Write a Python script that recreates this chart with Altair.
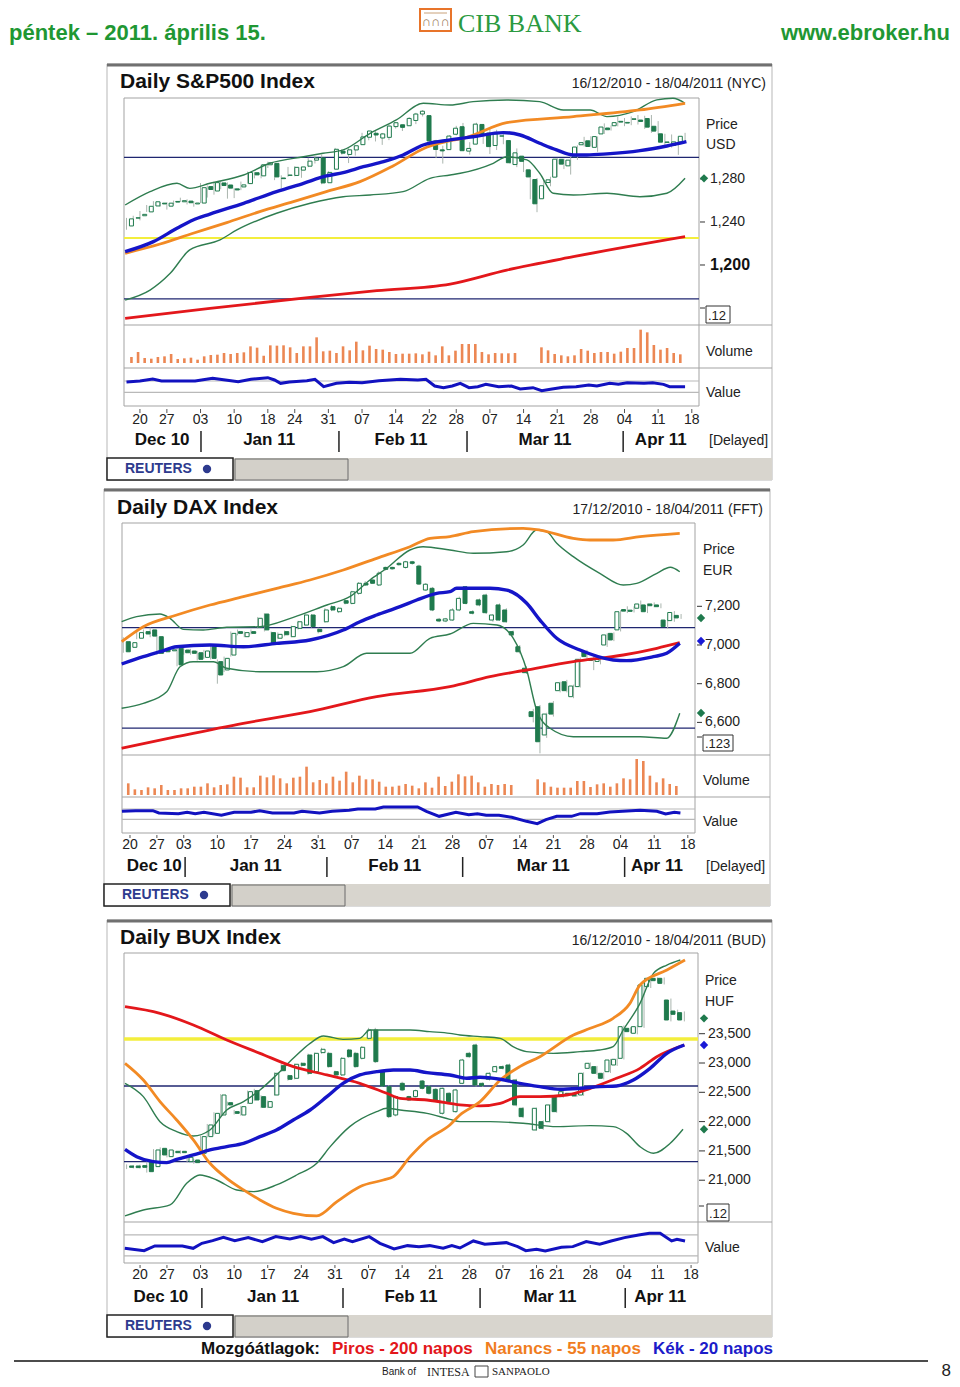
import altair as alt
import numpy as np
import pandas as pd

# =====================================================================
# DATA (x = trading-day index)
# =====================================================================
MONTHS = ["Dec 10", "Jan 11", "Feb 11", "Mar 11", "Apr 11"]

# ---------------- S&P 500 (index 0 = 16/12/2010) ----------------
sp_open = [1236.3, 1243.6, 1245.8, 1249.4, 1254.9, 1257.5, 1254.7, 1259.1, 1258.8, 1259.4,
           1256.8, 1257.6, 1272.9, 1268.8, 1276.3, 1274.4, 1270.8, 1272.6, 1275.7, 1285.8,
           1282.9, 1293.2, 1294.5, 1280.9, 1283.6, 1283.3, 1288.2, 1291.9, 1297.5, 1299.6,
           1276.5, 1289.1, 1305.9, 1302.8, 1307.0, 1311.9, 1318.8, 1322.5, 1318.1, 1318.7,
           1328.7, 1330.4, 1329.5, 1334.4, 1340.4, 1338.9, 1315.4, 1307.1, 1307.3, 1321.6,
           1328.6, 1305.9, 1312.4, 1330.7, 1322.7, 1311.1, 1319.9, 1315.7, 1293.4, 1301.2,
           1288.5, 1279.5, 1261.6, 1276.7, 1281.7, 1298.3, 1292.2, 1300.6, 1311.8, 1315.5,
           1309.4, 1321.9, 1327.4, 1329.5, 1333.6, 1332.0, 1335.9, 1334.8, 1336.2, 1329.0,
           1322.0, 1314.0, 1311.1, 1314.5]
sp_high = [1243.8, 1245.8, 1250.2, 1255.8, 1259.4, 1258.6, 1258.4, 1259.9, 1262.6, 1261.1,
           1259.3, 1276.2, 1274.1, 1277.6, 1278.2, 1276.8, 1271.5, 1277.6, 1286.9, 1286.7,
           1293.2, 1296.1, 1294.6, 1283.4, 1291.2, 1291.9, 1291.3, 1299.7, 1301.3, 1302.7,
           1287.2, 1308.9, 1307.6, 1308.6, 1311.0, 1322.9, 1324.9, 1324.5, 1322.8, 1330.8,
           1332.9, 1330.4, 1337.6, 1341.5, 1344.1, 1338.9, 1316.4, 1310.9, 1320.6, 1329.4,
           1332.1, 1314.2, 1332.3, 1331.1, 1327.7, 1325.7, 1323.2, 1315.7, 1308.4, 1301.2,
           1288.5, 1280.9, 1278.9, 1282.1, 1299.6, 1299.0, 1300.6, 1311.3, 1319.2, 1319.7,
           1319.5, 1331.7, 1329.8, 1337.9, 1336.7, 1338.2, 1339.5, 1338.8, 1339.5, 1333.8,
           1322.0, 1321.4, 1316.8, 1322.9]
sp_low = [1232.8, 1239.9, 1241.5, 1249.4, 1254.9, 1254.1, 1251.5, 1256.2, 1258.8, 1256.3,
          1254.2, 1257.6, 1262.7, 1265.4, 1270.4, 1261.7, 1262.2, 1269.6, 1275.7, 1280.5,
          1280.6, 1290.2, 1278.9, 1271.3, 1282.1, 1282.5, 1281.1, 1291.0, 1294.4, 1275.1,
          1276.5, 1289.1, 1302.6, 1294.8, 1301.7, 1311.9, 1316.0, 1314.9, 1311.7, 1316.1,
          1326.9, 1324.6, 1329.5, 1331.0, 1338.1, 1312.3, 1299.4, 1294.3, 1307.3, 1320.5,
          1306.1, 1302.6, 1312.4, 1312.6, 1303.2, 1306.9, 1312.3, 1294.2, 1291.0, 1286.4,
          1261.1, 1249.1, 1261.6, 1273.2, 1281.7, 1289.2, 1284.1, 1297.7, 1310.2, 1310.2,
          1305.3, 1321.9, 1325.0, 1328.9, 1329.1, 1330.0, 1330.6, 1326.6, 1322.9, 1321.1,
          1309.5, 1309.2, 1302.4, 1313.7]
sp_close = [1242.9, 1243.9, 1247.1, 1254.6, 1258.8, 1256.8, 1257.5, 1258.5, 1259.8, 1257.9,
            1257.6, 1271.9, 1270.2, 1276.6, 1273.9, 1271.5, 1269.8, 1274.5, 1286.0, 1283.8,
            1293.2, 1295.0, 1281.9, 1280.3, 1283.4, 1290.8, 1291.2, 1296.6, 1299.5, 1276.3,
            1286.1, 1307.6, 1304.0, 1307.1, 1310.9, 1319.1, 1324.6, 1320.9, 1321.9, 1329.2,
            1332.3, 1328.0, 1336.3, 1340.4, 1343.0, 1315.4, 1307.4, 1306.1, 1319.9, 1327.2,
            1306.3, 1308.4, 1331.0, 1321.2, 1310.1, 1321.8, 1320.0, 1295.1, 1304.3, 1296.4,
            1281.9, 1256.9, 1273.7, 1279.2, 1298.4, 1293.8, 1297.5, 1309.7, 1313.8, 1310.2,
            1319.4, 1328.3, 1325.8, 1332.4, 1332.9, 1332.6, 1335.5, 1333.5, 1328.2, 1324.5,
            1314.2, 1314.4, 1314.5, 1319.7]
sp_ma20_i = [-0.2, 4, 7.5, 9.9, 12.4, 17.4, 22.3, 26.3, 29.7, 32.2, 35.2, 38.2, 41.1, 44.1, 48.1,
             51.5, 56, 58.5, 61.4, 63.9, 66.4, 68.4, 71.4, 76.3, 80.3, 83.2]
sp_ma20_v = [1212.4, 1221.7, 1234.1, 1241.9, 1247.4, 1257.4, 1268.2, 1276, 1282.8, 1285.9, 1291.4,
             1296.1, 1302.3, 1311.6, 1316.3, 1319.3, 1323.1, 1320.9, 1313.2, 1307, 1302.3, 1302.3,
             1303.3, 1306.3, 1310.7, 1314.7]
sp_ma55_i = [-0.2, 5.0, 9.9, 14.9, 19.8, 24.8, 29.7, 34.7, 39.6, 44.6, 48.1, 50.0, 56.5, 66.4, 76.3, 83]
sp_ma55_v = [1210.9, 1219.5, 1229.5, 1239.4, 1249.6, 1258.9, 1268.2, 1277.5, 1292.1, 1309.5, 1315.6,
             1317.8, 1332.4, 1338, 1344.2, 1350.4]
sp_ma200_i = [-0.2, 12.4, 27.3, 37.2, 48.1, 56.5, 66.4, 83]
sp_ma200_v = [1150.4, 1159.7, 1169.9, 1176.1, 1182.3, 1195.3, 1207.7, 1226.3]
sp_bbu_i = [-0.2, 3.5, 7.5, 9.4, 12.4, 17.4, 21.3, 26.3, 29.2, 32.2, 36.2, 40.1, 44.1, 48.1, 51.5,
            56.5, 61.4, 64.9, 68.9, 71.4, 75.3, 78.8, 81.2, 83]
sp_bbu_v = [1255.8, 1268.2, 1276, 1271.3, 1276, 1283.7, 1294.6, 1300.7, 1303.9, 1307, 1322.5, 1334.9,
            1350.4, 1348.8, 1351.9, 1353.5, 1351.9, 1344.2, 1344.2, 1338, 1342.6, 1353.5, 1355, 1350.4]
sp_bbl_i = [-0.2, 3.5, 6.5, 9.4, 13.9, 16.4, 22.3, 27.3, 32.2, 36.2, 41.1, 45.1, 48.1, 49.6, 54.5,
            56.5, 59.5, 61.4, 63.4, 66.4, 71.4, 76.3, 80.3, 83]
sp_bbl_v = [1167.4, 1176.7, 1192.3, 1214, 1223.3, 1232.6, 1248.1, 1257.4, 1263.5, 1265.1, 1268.2,
            1280.6, 1283.7, 1285.3, 1294.6, 1300.7, 1297.7, 1285.3, 1266.7, 1265.1, 1266.7, 1263.5,
            1266.7, 1280.6]
sp_navy = [1300, 1168.5]
sp_yellow = [1225]
sp_ticks = [1280, 1240]
sp_ticks_bold = [1200]
sp_marks_v = [1280.6]
sp_marks_c = ["green"]
sp_vol = [18, 33, 15, 13, 18, 20, 27, 12, 14, 16, 10, 20, 24, 25, 30, 27, 30, 32, 50, 46,
          22, 53, 52, 53, 47, 30, 50, 50, 77, 35, 37, 30, 50, 38, 64, 38, 52, 42, 40, 33,
          27, 28, 28, 29, 26, 34, 23, 50, 23, 37, 57, 57, 57, 33, 26, 30, 29, 29, 30,
          None, None, None,
          47, 38, 27, 23, 20, 23, 42, 37, 30, 33, 33, 28, 34, 45, 45, 100, 92, 54, 40, 45, 30, 26]
sp_val_i = [0, 2, 3.9, 5.2, 10.2, 12.8, 14.7, 16.6, 18.5, 21, 22, 22.9, 24.2, 26.8, 28, 29.3, 31.2,
            33.1, 35, 37.5, 40.7, 43.3, 44.5, 45.8, 47.1, 48.4, 49.6, 50.9, 52.2, 53.4, 55.3, 57.2,
            58.5, 60.4, 61.7, 63, 64.9, 66.8, 68.7, 69.9, 71.8, 73.1, 74.4, 76.9, 78.2, 79.8, 80.7, 83]
sp_val_v = [64, 67, 73, 67, 67, 75, 70, 65, 72, 77, 70, 60, 64, 68, 72, 50, 60, 63, 62, 68,
            72, 70, 72, 52, 47, 52, 60, 47, 50, 57, 50, 52, 43, 47, 38, 42, 48, 50, 55, 52,
            60, 57, 62, 60, 62, 57, 50, 50]
sp_val_grid = [67, 33]
sp_day_i = [2, 6, 11, 16, 21, 25, 30, 35, 40, 45, 49, 54, 59, 64, 69, 74, 79, 84]
sp_day_t = ["20", "27", "03", "10", "18", "24", "31", "07", "14", "22", "28", "07", "14", "21", "28", "04", "11", "18"]
sp_mon_i = [5.3, 21.2, 40.8, 62.2, 79.4]
sp_sep_i = [11.07, 31.57, 50.6, 73.8]

# ---------------- DAX (index 0 = 17/12/2010) ----------------
dax_open = [7017, 6988, 7035, 7069, 7078, 7043, 6978, 6970, 6983, 6974,
            6969, 6960, 6936, 6991, 6914, 6871, 6948, 7069, 7043, 7069,
            7091, 7160, 7064, 7035, 7069, 7043, 7086, 7103, 7155, 7081,
            7120, 7198, 7172, 7229, 7215, 7267, 7319, 7336, 7310, 7401,
            7401, 7422, 7401, 7430, 7408, 7284, 7293, 7133, 7124, 7129,
            7181, 7301, 7172, 7233, 7258, 7129, 7207, 7181, 7069, 6991,
            6880, 6655, 6681, 6535, 6699, 6764, 6810, 6733, 6785, 6965,
            6930, 6915, 7000, 7060, 7078, 7183, 7180, 7190, 7207, 7212,
            7207, 7129, 7126, 7153]
dax_high = [7040, 7020, 7075, 7080, 7090, 7050, 6990, 6985, 6990, 6985,
            6980, 6970, 6975, 7000, 6925, 6940, 7070, 7080, 7070, 7080,
            7145, 7165, 7070, 7065, 7075, 7100, 7125, 7165, 7160, 7090,
            7190, 7205, 7195, 7235, 7280, 7325, 7330, 7340, 7380, 7405,
            7405, 7428, 7435, 7435, 7415, 7320, 7300, 7140, 7140, 7190,
            7250, 7305, 7180, 7240, 7265, 7160, 7215, 7190, 7075, 7000,
            6890, 6670, 6690, 6650, 6710, 6810, 6820, 6795, 6935, 6975,
            6940, 6940, 7060, 7065, 7180, 7200, 7200, 7230, 7215, 7220,
            7215, 7135, 7175, 7160]
dax_low = [6960, 6980, 7030, 7050, 7040, 6950, 6955, 6965, 6890, 6950,
           6950, 6920, 6930, 6925, 6800, 6860, 6940, 7050, 7040, 7055,
           7085, 7070, 7000, 7030, 7045, 7040, 7080, 7100, 7090, 7060,
           7115, 7175, 7165, 7210, 7210, 7260, 7305, 7315, 7305, 7385,
           7388, 7410, 7395, 7415, 7310, 7280, 7175, 7118, 7118, 7125,
           7175, 7210, 7158, 7200, 7160, 7120, 7125, 7115, 7045, 6955,
           6850, 6600, 6440, 6520, 6630, 6755, 6755, 6725, 6780, 6930,
           6870, 6900, 6990, 7020, 7070, 7165, 7168, 7185, 7165, 7195,
           7190, 7085, 7120, 7135]
dax_close = [6965, 7012, 7064, 7057, 7046, 6957, 6965, 6975, 6897, 6960,
             6957, 6926, 6969, 6931, 6845, 6931, 7060, 7060, 7064, 7060,
             7138, 7078, 7005, 7055, 7053, 7095, 7120, 7155, 7095, 7069,
             7181, 7181, 7190, 7216, 7275, 7319, 7310, 7319, 7371, 7391,
             7394, 7415, 7430, 7422, 7315, 7314, 7181, 7124, 7135, 7181,
             7241, 7215, 7164, 7207, 7167, 7155, 7129, 7120, 7052, 6965,
             6857, 6630, 6500, 6643, 6643, 6805, 6764, 6788, 6926, 6940,
             6920, 6925, 7052, 7026, 7172, 7175, 7174, 7212, 7172, 7203,
             7198, 7095, 7168, 7140]
dax_ma20_i = [-0.24, 2.98, 5.46, 7.94, 12.9, 17.86, 22.83, 27.78, 32.74, 35.22, 37.7, 41.18, 43.66,
              46.64, 48.6, 49.6, 54.57, 57.05, 60.03, 62, 64.5, 67.96, 72.9, 74.9, 78.87, 80.86, 82.8]
dax_ma20_v = [6901.8, 6939.7, 6965.4, 6991.2, 7000, 6991, 7008.6, 7025.8, 7077.5, 7120.5, 7155, 7198,
              7232.6, 7267, 7275.5, 7293, 7293, 7284, 7215.5, 7129, 7034.5, 6974, 6922.5, 6919, 6939.7,
              6957, 7008.6]
dax_ma55_i = [-0.24, 2.98, 7.94, 12.9, 17.86, 22.83, 27.78, 32.74, 37.7, 42.66, 45.64, 48.6, 52.08,
              59.5, 62, 66.96, 69.4, 72.9, 76.9, 82.8]
dax_ma55_v = [7017, 7094.6, 7155, 7206.7, 7249.6, 7293, 7336, 7387.6, 7448, 7508, 7551, 7559.8, 7585.6,
              7603, 7594, 7551, 7542.6, 7542.6, 7559.8, 7577]
dax_ma200_i = [-0.24, 7.94, 17.86, 27.78, 37.7, 48.6, 54.57, 60.03, 66.96, 74.4, 79.4, 82.8]
dax_ma200_v = [6466, 6526, 6595.3, 6655.3, 6733, 6784.5, 6836, 6870.8, 6913.7, 6948.3, 6983, 7012]
dax_bbu_i = [-0.24, 1.99, 5.46, 6.95, 8.93, 11.9, 15.4, 20.3, 25.3, 30.3, 33.7, 36.7, 39.2, 42.66,
             44.6, 48.6, 52.08, 57.05, 59.5, 61.5, 63, 64.5, 66.96, 70.9, 74.4, 76.4, 79.4, 81.4, 82.8]
dax_bbu_v = [7120.5, 7146.3, 7160, 7138, 7081, 7077.5, 7091.5, 7094.6, 7143, 7206.7, 7249.6, 7336,
             7396.4, 7491, 7508, 7491, 7474, 7482, 7516.8, 7594, 7585.6, 7525.6, 7456.5, 7370.5, 7310,
             7318.7, 7370.5, 7401.5, 7378.8]
dax_bbl_i = [-0.24, 2.98, 6.46, 8.44, 10.4, 13.4, 15.4, 20.3, 25.3, 28.8, 32.74, 36.2, 42.66, 45.64,
             48.6, 52.08, 55.6, 58.04, 60.03, 61.5, 63.5, 66.96, 72.9, 76.9, 80.86, 82.8]
dax_bbl_v = [6672.9, 6698.7, 6758.6, 6887.9, 6913.7, 6913.7, 6879.6, 6862, 6862, 6862, 6887.9, 6957,
             6957, 7034.6, 7056.8, 7112, 7103.4, 7034.6, 6870.8, 6664, 6569.5, 6526, 6526, 6526,
             6517.8, 6647]
dax_navy = [7090, 6570]
dax_yellow = []
dax_ticks = [7200, 7000, 6800, 6600]
dax_ticks_bold = []
dax_marks_v = [7139.5, 7020.7, 6648.6]
dax_marks_c = ["green", "blue", "green"]
dax_vol = [35, 17, 15, 23, 20, 30, 15, 15, 20, 20, 25, 25, 35, 23, 30, 32, 55, 52, 23, 23,
           58, 53, 59, 50, 35, 52, 55, 85, 38, 45, 35, 55, 43, 70, 38, 58, 47, 47, 40, 25,
           25, 28, 33, 28, 20, 38, 22, 55, 27, 40, 62, 56, 58, 38, 25, 33, 30, 33, 30,
           None, None, None,
           47, 38, 25, 22, 22, 22, 42, 42, 24, 32, 35, 25, 35, 50, 47, 108, 102, 58, 38, 50, 33, 27]
dax_val_i = [-0.2, 1.84, 4.4, 5.3, 8.2, 9.5, 10.7, 12, 14.6, 16.5, 19, 20.3, 22.2, 25.4, 26.6, 29.2,
             31.1, 33.6, 34.9, 37.5, 38.7, 42.5, 43.8, 45.1, 47, 49.5, 51.4, 52.7, 54, 55.9, 57.8, 60,
             61.6, 62.9, 64.5, 66.7, 68, 70.5, 72.4, 74.3, 76.9, 79.4, 80.7, 82, 82.9]
dax_val_v = [50, 52, 52, 45, 43, 47, 43, 47, 38, 47, 47, 52, 45, 45, 50, 45, 50, 53, 57, 57,
             63, 63, 63, 50, 35, 47, 40, 43, 38, 38, 32, 20, 13, 25, 35, 35, 43, 43, 48, 50,
             53, 50, 42, 47, 45]
dax_val_grid = [57, 26]
dax_day_i = [1, 5, 9, 14, 19, 24, 29, 34, 39, 44, 49, 54, 59, 64, 69, 74, 79, 84]
dax_day_t = ["20", "27", "03", "10", "17", "24", "31", "07", "14", "21", "28", "07", "14", "21", "28", "04", "11", "18"]
dax_mon_i = [4.6, 19.7, 40.4, 62.5, 79.4]
dax_sep_i = [9.2, 30.3, 50.5, 74.6]

# ---------------- BUX (index 0 = 16/12/2010) ----------------
bux_open = [21243, 21243, 21249, 21317, 21232, 21544, 21402, 21493, 21493, 21317,
            21345, 21459, 21744, 21800, 22113, 22323, 22170, 22113, 22312, 22528,
            22426, 22244, 22454, 22955, 22784, 22739, 22995, 23137, 22852, 23177,
            23165, 22852, 22796, 23222, 23165, 23080, 23421, 23563, 22852, 22597,
            22113, 22653, 22426, 22426, 22693, 22597, 22551, 22142, 22483, 22170,
            22653, 23165, 23307, 22653, 22722, 22852, 22938, 22966, 22710, 22227,
            None, 21857, 21999, 21999, 22426, 22426, 22483, 22471, 22454, 22909,
            22938, 22824, 22852, 22966, 23080, 23592, 23507, 23620, 24303, 24445,
            24445, 24075, 23887, 23859]
bux_high = [21270, 21260, 21265, 21330, 21530, 21560, 21530, 21510, 21510, 21410,
            21360, 21760, 21960, 22160, 22470, 22340, 22200, 22270, 22530, 22560,
            22450, 22360, 22840, 22990, 22800, 22990, 23010, 23160, 23180, 23260,
            23190, 22870, 23100, 23240, 23190, 23290, 23600, 23600, 22880, 22620,
            22440, 22680, 22440, 22545, 22710, 22620, 22570, 22580, 22500, 22560,
            23070, 23190, 23330, 22670, 22840, 22955, 22960, 22990, 22730, 22250,
            None, 22240, 22020, 22300, 22440, 22530, 22500, 22490, 22840, 23010,
            22950, 22840, 23070, 23080, 23640, 23610, 23640, 24380, 24470, 24460,
            24460, 24100, 23910, 23880]
bux_low = [21190, 21200, 21200, 21130, 21220, 21420, 21390, 21450, 21450, 21300,
           21280, 21440, 21730, 21780, 22090, 22270, 22120, 22100, 22300, 22350,
           22230, 22230, 22440, 22850, 22700, 22720, 22940, 22800, 22830, 23160,
           22920, 22780, 22780, 23090, 22920, 23060, 23400, 23000, 22590, 22060,
           22090, 22520, 22350, 22410, 22550, 22460, 22350, 22120, 22320, 22150,
           22640, 23090, 22600, 22590, 22700, 22830, 22890, 22690, 22260, 22060,
           None, 21840, 21860, 21980, 22150, 22410, 22440, 22420, 22440, 22890,
           22800, 22720, 22830, 22950, 23060, 23510, 23490, 23600, 24280, 24390,
           24340, 23710, 23810, 23710]
bux_close = [21220, 21215, 21220, 21146, 21516, 21431, 21516, 21470, 21470, 21391,
             21300, 21744, 21943, 22141, 22454, 22284, 22141, 22255, 22511, 22369,
             22244, 22341, 22824, 22869, 22722, 22978, 22960, 22824, 23165, 23234,
             22938, 22796, 23080, 23108, 22938, 23268, 23563, 23023, 22608, 22085,
             22426, 22540, 22369, 22528, 22568, 22483, 22369, 22568, 22341, 22540,
             23051, 23108, 22625, 22614, 22824, 22938, 22909, 22710, 22284, 22085,
             None, 22227, 21886, 22284, 22170, 22511, 22454, 22437, 22824, 22995,
             22824, 22739, 23051, 23063, 23620, 23535, 23620, 24331, 24445, 24405,
             24359, 23734, 23831, 23734]
bux_ma20_i = [-0.24, 1.5, 3.97, 5.97, 7.45, 9.93, 12.4, 14.9, 17.4, 19.85, 22.3, 24.8, 27.3, 29.8,
              32.2, 34.7, 37.2, 39.7, 42.2, 44.7, 48.1, 50.6, 52.6, 55.6, 58.5, 61.5, 64.5, 67.5,
              70.4, 72.9, 75.4, 77.9, 80.4, 83]
bux_ma20_v = [21527, 21402, 21317, 21300, 21357, 21431, 21516, 21573, 21630, 21743, 21857, 22028,
              22198, 22426, 22653, 22796, 22852, 22881, 22881, 22835, 22796, 22739, 22756, 22722,
              22653, 22597, 22551, 22568, 22597, 22608, 22710, 22909, 23165, 23307]
bux_ma55_i = [-0.24, 2.49, 4.97, 7.45, 9.93, 12.4, 14.9, 17.4, 19.85, 22.3, 24.8, 28.3, 31.3, 34.7,
              38.2, 39.7, 42.2, 44.7, 48.1, 49.6, 52.6, 55.6, 58.5, 61.5, 66.5, 69, 72.4, 74.9, 76.4,
              80.4, 83.1]
bux_ma55_v = [22995, 22710, 22341, 22028, 21687, 21289, 21033, 20834, 20663, 20521, 20435, 20390,
              20635, 20890, 21004, 21061, 21402, 21687, 21942, 22113, 22341, 22710, 22938, 23108,
              23478, 23592, 23762, 24018, 24331, 24587, 24758]
bux_ma200_i = [-0.24, 4.97, 9.93, 14.9, 19.85, 24.8, 29.8, 34.7, 38.7, 40.7, 44.7, 48.1, 49.6, 52.6,
               55.6, 58.5, 61.5, 65.5, 69, 72.9, 76.4, 78.9, 83]
bux_ma200_v = [23961, 23848, 23649, 23393, 23165, 22938, 22796, 22653, 22483, 22397, 22369, 22312,
               22284, 22267, 22312, 22426, 22426, 22454, 22568, 22739, 22909, 23108, 23307]
bux_bbu_i = [-0.24, 2.49, 4.97, 7.45, 9.93, 12.4, 14.9, 17.4, 19.85, 22.3, 24.8, 27.3, 29.3, 32.2,
             34.7, 36.2, 38.7, 42.2, 45.1, 48.1, 49.6, 52.6, 55.6, 57.5, 59.5, 63.5, 67.5, 70.4, 72.4,
             73.9, 76.4, 78.4, 80.4, 82.4]
bux_bbu_v = [22653, 22426, 21999, 21829, 21755, 21857, 22198, 22341, 22540, 22796, 23080, 23336,
             23461, 23404, 23421, 23563, 23563, 23563, 23535, 23506, 23478, 23450, 23421, 23279,
             23194, 23165, 23194, 23222, 23279, 23563, 24018, 24530, 24672, 24758]
bux_bbl_i = [-0.24, 2.49, 6.46, 8.94, 10.9, 13.4, 16.4, 18.9, 22.3, 25.3, 28.3, 30.3, 33.2, 37.2,
             38.7, 40.7, 44.7, 48.1, 49.6, 54.1, 59, 64, 69, 72.4, 74.4, 76.4, 78.4, 80.9, 82.8]
bux_bbl_v = [20390, 20492, 20578, 20947, 21089, 21004, 20834, 20805, 20919, 21089, 21289, 21573,
             21914, 22170, 22227, 22198, 22141, 22039, 21999, 21999, 21971, 21914, 21931, 21914,
             21800, 21573, 21459, 21630, 21869]
bux_navy = [22608, 21317]
bux_yellow = [23410]
bux_ticks = [23500, 23000, 22500, 22000, 21500, 21000]
bux_ticks_bold = []
bux_marks_v = [23762, 23307, 21869]
bux_marks_c = ["green", "blue", "green"]
bux_vol = None
bux_val_i = [-0.28, 2.6, 4.2, 8.3, 9.9, 11.2, 12.8, 14.4, 16.1, 18.1, 20.2, 22.2, 24.3, 25.9, 27.5,
             29.2, 30.8, 32.4, 33.6, 36.1, 37.7, 39.8, 41.8, 43.5, 45.1, 47.1, 48.4, 49.6, 51.6,
             53.3, 56.5, 58.2, 59.4, 61, 62.3, 64.7, 66.4, 68.4, 70.4, 72.1, 74.1, 76.2, 77.8,
             79.4, 81.1, 81.9, 83.1]
bux_val_v = [165, 158, 172, 172, 165, 180, 188, 198, 188, 197, 185, 200, 193, 200, 192, 200, 182,
             193, 185, 200, 180, 163, 173, 170, 173, 165, 173, 166, 187, 177, 182, 170, 158, 162,
             157, 168, 170, 185, 177, 187, 197, 205, 210, 210, 187, 192, 187]
bux_val_grid = [205, 142]
bux_day_i = [2, 6, 11, 16, 21, 26, 31, 36, 41, 46, 51, 56, 61, 64, 69, 74, 79, 84]
bux_day_t = ["20", "27", "03", "10", "17", "24", "31", "07", "14", "21", "28", "07", "16", "21", "28", "04", "11", "18"]
bux_mon_i = [5.1, 21.8, 42.3, 63.0, 79.4]
bux_sep_i = [11.2, 32.2, 52.6, 74.2]

# =====================================================================
# STYLE / LAYOUT
# =====================================================================
SANS = "Liberation Sans, Arial, Helvetica, sans-serif"
SERIF = "Liberation Serif, Times New Roman, serif"
GREEN = "#1f7a4d"
BAND = "#2f7d50"
BLUE = "#1515c8"
ORANGE = "#f28a24"
RED = "#e3171b"
NAVY = "#1f2670"
YELLOW = "#f3ee3c"
VOLC = "#ec8753"
GRID = "#b9b9b9"
BORDER = "#a3a3a3"
WICK = "#aab5ae"
HGREEN = "#1f9733"


def px(x):
    return x - 8


def py(y):
    return y - 8


DUMMY = pd.DataFrame({"k": [0]})
layers = []


def text(s, x, y, size=14, weight="normal", color="#222222", align="left", font=SANS):
    layers.append(alt.Chart(DUMMY).mark_text(
        text=s, fontSize=size, fontWeight=weight, color=color, align=align,
        baseline="middle", font=font).encode(x=alt.value(px(x)), y=alt.value(py(y))))


def rect(x0, y0, x1, y1, fill="transparent", stroke="transparent", sw=1):
    layers.append(alt.Chart(DUMMY).mark_rect(fill=fill, stroke=stroke, strokeWidth=sw).encode(
        x=alt.value(px(x0)), x2=alt.value(px(x1)), y=alt.value(py(y0)), y2=alt.value(py(y1))))


def hline(x0, x1, y, color=BORDER, w=1):
    layers.append(alt.Chart(DUMMY).mark_rule(color=color, strokeWidth=w).encode(
        x=alt.value(px(x0)), x2=alt.value(px(x1)), y=alt.value(py(y))))


def vline(x, y0, y1, color=BORDER, w=1):
    layers.append(alt.Chart(DUMMY).mark_rule(color=color, strokeWidth=w).encode(
        x=alt.value(px(x)), y=alt.value(py(y0)), y2=alt.value(py(y1))))


def build_panel(g, d):
    def xs():
        return alt.Scale(domain=[g["i0"], g["i1"]], range=[px(g["x0"]), px(g["x1"])], nice=False, zero=False)

    def ys():
        return alt.Scale(domain=[g["pbot"], g["ptop"]], range=[py(g["ybot"]), py(g["ytop"])],
                         nice=False, zero=False, clamp=True)

    def X(f="i"):
        return alt.X(f + ":Q", scale=xs(), axis=None)

    def Y(f):
        return alt.Y(f + ":Q", scale=ys(), axis=None)

    # frame
    rect(g["fx0"], g["fy0"], g["fx1"], g["fy1"], fill="white", stroke="#b7b7b7", sw=1)
    hline(g["fx0"], g["fx1"], g["fy0"] + 1, "#707070", 3)
    text(g["title"], g["title_x"], g["title_y"], size=21, weight="bold", color="#111111")
    text(g["range"], g["range_x"], g["range_y"], size=14, color="#222222", align="right")

    # plot borders and separators
    hline(g["x0"], g["x1"], g["ytop"])
    vline(g["x0"], g["ytop"], g["pb"])
    vline(g["x1"], g["ytop"], g["pb"])
    hline(g["x0"], g["x1"], g["pb"])
    for s in g["seps"]:
        hline(g["x0"], g["fx1"], s)

    # horizontal levels
    if d["navy"]:
        layers.append(alt.Chart(pd.DataFrame({"v": d["navy"]})).mark_rule(color=NAVY, strokeWidth=1.3).encode(
            y=Y("v"), x=alt.value(px(g["x0"])), x2=alt.value(px(g["x1"]))))
    if d["yellow"]:
        layers.append(alt.Chart(pd.DataFrame({"v": d["yellow"]})).mark_rule(color=YELLOW, strokeWidth=g["yw"]).encode(
            y=Y("v"), x=alt.value(px(g["x0"])), x2=alt.value(px(g["x1"]))))

    # candles
    cd = pd.DataFrame({"i": list(range(len(d["open"]))), "o": d["open"], "h": d["high"],
                       "l": d["low"], "c": d["close"]}).dropna()
    cd["d"] = np.where(cd["c"] >= cd["o"], "up", "down")
    layers.append(alt.Chart(cd).mark_rule(color=WICK, strokeWidth=1).encode(
        x=X(), y=Y("l"), y2="h:Q"))
    layers.append(alt.Chart(cd).mark_bar(size=4, stroke=GREEN, strokeWidth=1).encode(
        x=X(), y=Y("o"), y2="c:Q",
        fill=alt.Fill("d:N", scale=alt.Scale(domain=["up", "down"], range=["#ffffff", GREEN]), legend=None)))

    # moving averages and bands
    def line(ii, vv, color, w):
        df = pd.DataFrame({"i": ii, "v": vv})
        layers.append(alt.Chart(df).mark_line(color=color, strokeWidth=w, interpolate="monotone").encode(
            x=X(), y=Y("v")))

    line(d["bbu_i"], d["bbu_v"], BAND, 1.4)
    line(d["bbl_i"], d["bbl_v"], BAND, 1.4)
    line(d["ma200_i"], d["ma200_v"], RED, 2.8)
    line(d["ma55_i"], d["ma55_v"], ORANGE, 2.8)
    line(d["ma20_i"], d["ma20_v"], BLUE, 3.4)

    # right price axis
    allt = pd.DataFrame({"v": d["ticks"] + d["ticks_bold"]})
    layers.append(alt.Chart(allt).mark_rule(color="#333333", strokeWidth=1).encode(
        y=Y("v"), x=alt.value(px(g["tx0"])), x2=alt.value(px(g["tx1"]))))
    tk = pd.DataFrame({"v": d["ticks"], "t": [f"{v:,}" for v in d["ticks"]]})
    layers.append(alt.Chart(tk).mark_text(align="left", baseline="middle", fontSize=14, font=SANS,
                                          color="#222222").encode(
        y=Y("v"), x=alt.value(px(g["lx"])), text="t:N"))
    if d["ticks_bold"]:
        tb = pd.DataFrame({"v": d["ticks_bold"], "t": [f"{v:,}" for v in d["ticks_bold"]]})
        layers.append(alt.Chart(tb).mark_text(align="left", baseline="middle", fontSize=16, fontWeight="bold",
                                              font=SANS, color="#111111").encode(
            y=Y("v"), x=alt.value(px(g["lx"])), text="t:N"))
    mk = pd.DataFrame({"v": d["marks_v"], "c": d["marks_c"]})
    layers.append(alt.Chart(mk).mark_point(shape="diamond", filled=True, size=70, opacity=1).encode(
        y=Y("v"), x=alt.value(px(g["dx"])),
        color=alt.Color("c:N", scale=alt.Scale(domain=["green", "blue"], range=[GREEN, "#1a1ad6"]), legend=None)))

    # small boxed label at bottom of price axis
    bx0, by0, bx1, by1, bt = g["box"]
    rect(bx0, by0, bx1, by1, fill="white", stroke="#333333", sw=1)
    text(bt, bx0 + 2, (by0 + by1) / 2 + 1, size=13, color="#222222")
    hline(g["tx0"], g["tx0"] + 5, by0 + 2, "#333333", 1)

    # right-hand labels
    for s, yy in g["rlabels"]:
        text(s, g["rlx"], yy, size=14, color="#222222")

    # volume
    if d["vol"] is not None:
        vd = pd.DataFrame({"i": list(range(len(d["vol"]))), "v": d["vol"]}).dropna()
        vsc = alt.Scale(domain=[0, g["vmax"]], range=[py(g["vbase"]), py(g["vtop"])], nice=False, zero=True)
        layers.append(alt.Chart(vd).mark_bar(size=2.6, color=VOLC).encode(
            x=X(), y=alt.Y("v:Q", scale=vsc, axis=None)))

    # value panel
    def vsc2():
        return alt.Scale(domain=[g["vv0"], g["vv1"]], range=[py(g["vyb"]), py(g["vyt"])], nice=False, zero=False)

    gd = pd.DataFrame({"v": d["val_grid"]})
    layers.append(alt.Chart(gd).mark_rule(color=GRID, strokeWidth=1.2).encode(
        y=alt.Y("v:Q", scale=vsc2(), axis=None), x=alt.value(px(g["x0"])), x2=alt.value(px(g["x1"]))))
    vl = pd.DataFrame({"i": d["val_i"], "v": d["val_v"]})
    layers.append(alt.Chart(vl).mark_line(color="#1212c0", strokeWidth=3).encode(
        x=X(), y=alt.Y("v:Q", scale=vsc2(), axis=None)))

    # date axis
    dd = pd.DataFrame({"i": d["day_i"], "t": d["day_t"]})
    layers.append(alt.Chart(dd).mark_rule(color="#555555", strokeWidth=1).encode(
        x=X(), y=alt.value(py(g["tick_y"][0])), y2=alt.value(py(g["tick_y"][1]))))
    layers.append(alt.Chart(dd).mark_text(fontSize=14, font=SANS, color="#222222", baseline="middle").encode(
        x=X(), y=alt.value(py(g["day_y"])), text="t:N"))
    mm = pd.DataFrame({"i": d["mon_i"], "t": MONTHS})
    layers.append(alt.Chart(mm).mark_text(fontSize=17, fontWeight="bold", font=SANS, color="#111111",
                                          baseline="middle").encode(
        x=X(), y=alt.value(py(g["mon_y"])), text="t:N"))
    ss = pd.DataFrame({"i": d["sep_i"]})
    layers.append(alt.Chart(ss).mark_rule(color="#222222", strokeWidth=1.5).encode(
        x=X(), y=alt.value(py(g["sep_y"][0])), y2=alt.value(py(g["sep_y"][1]))))
    if g.get("delayed"):
        text("[Delayed]", g["delayed"][0], g["delayed"][1], size=14, color="#222222")

    # Reuters bar
    ry0, ry1 = g["reuters"]
    rect(g["fx0"] + 126, ry0, g["fx1"], ry1, fill="#d8d5ce")
    rect(g["fx0"] + 128, ry0 + 1, g["fx0"] + 241, ry1, fill="#d3d0c9", stroke="#6a6a6a", sw=1)
    rect(g["fx0"], ry0, g["fx0"] + 126, ry1, fill="white", stroke="#222222", sw=1.5)
    text("REUTERS", g["fx0"] + 18, (ry0 + ry1) / 2, size=14, weight="bold", color="#2d3a8e")
    layers.append(alt.Chart(DUMMY).mark_point(shape="circle", filled=True, size=70, color="#2d3a8e", opacity=1).encode(
        x=alt.value(px(g["fx0"] + 100)), y=alt.value(py((ry0 + ry1) / 2))))


def pack(prefix):
    gl = globals()
    keys = ["open", "high", "low", "close", "ma20_i", "ma20_v", "ma55_i", "ma55_v", "ma200_i", "ma200_v",
            "bbu_i", "bbu_v", "bbl_i", "bbl_v", "navy", "yellow", "ticks", "ticks_bold", "marks_v",
            "marks_c", "vol", "val_i", "val_v", "val_grid", "day_i", "day_t", "mon_i", "sep_i"]
    return {k: gl[prefix + "_" + k] for k in keys}


# ---------------- header ----------------
text("péntek – 2011. április 15.", 9, 33, size=22, weight="bold", color=HGREEN)
text("www.ebroker.hu", 950, 33, size=22, weight="bold", color=HGREEN, align="right")
rect(420, 9, 451, 31, fill="white", stroke="#e8742a", sw=2)
hline(424, 447, 13, "#c9a27a", 1)
text("∩∩∩", 435.5, 22, size=13, color="#9a7a58", align="center")
text("CIB BANK", 458, 24, size=26, color="#2b9a40", font=SERIF)

# ---------------- panels ----------------
SPG = dict(x0=124, x1=699, i0=-0.37, i1=85.07, ytop=98, ybot=325, pbot=1144.2, ptop=1355.3,
           fx0=107, fy0=64, fx1=772, fy1=480, title="Daily S&P500 Index", title_x=120, title_y=82,
           range="16/12/2010 - 18/04/2011 (NYC)", range_x=766, range_y=84,
           seps=[325, 368], pb=406, yw=2,
           vtop=326, vbase=363, vmax=111, vv0=-5, vv1=106, vyt=368, vyb=405,
           tx0=700, tx1=705, lx=710, dx=704, box=(706, 306, 730, 323, ".12"),
           rlx=706, rlabels=[("Price", 125), ("USD", 145), ("Volume", 352), ("Value", 393)],
           delayed=(709, 441), tick_y=(409, 413), day_y=420, mon_y=440, sep_y=(431, 452),
           reuters=(458, 480))
DAXG = dict(x0=122, x1=695, i0=-0.19, i1=85.07, ytop=523, ybot=755, pbot=6431.5, ptop=7630.5,
            fx0=104, fy0=489, fx1=770, fy1=906, title="Daily DAX Index", title_x=117, title_y=508,
            range="17/12/2010 - 18/04/2011 (FFT)", range_x=763, range_y=510,
            seps=[755, 797], pb=833, yw=2,
            vtop=755, vbase=795, vmax=120, vv0=-12, vv1=93, vyt=797, vyb=832,
            tx0=697, tx1=702, lx=705, dx=701, box=(703, 735, 733, 751, ".123"),
            rlx=703, rlabels=[("Price", 550), ("EUR", 571), ("Volume", 781), ("Value", 822)],
            delayed=(706, 867), tick_y=(835, 838), day_y=845, mon_y=866, sep_y=(857, 877),
            reuters=(884, 906))
BUXG = dict(x0=124, x1=698, i0=-0.39, i1=85.03, ytop=953, ybot=1222, pbot=20287, ptop=24877,
            fx0=107, fy0=920, fx1=772, fy1=1337, title="Daily BUX Index", title_x=120, title_y=938,
            range="16/12/2010 - 18/04/2011 (BUD)", range_x=766, range_y=941,
            seps=[1222], pb=1263, yw=3.5,
            vv0=120, vv1=240, vyt=1223.3, vyb=1263.3,
            tx0=699, tx1=705, lx=708, dx=704, box=(707, 1204, 729, 1221, ".12"),
            rlx=705, rlabels=[("Price", 981), ("HUF", 1002), ("Value", 1248)],
            tick_y=(1265, 1268), day_y=1275, mon_y=1297, sep_y=(1288, 1308),
            reuters=(1315, 1337))

build_panel(SPG, pack("sp"))
build_panel(DAXG, pack("dax"))
build_panel(BUXG, pack("bux"))

# ---------------- footer ----------------
text("Mozgóátlagok:", 201, 1349, size=17, weight="bold", color="#111111")
text("Piros - 200 napos", 332, 1349, size=17, weight="bold", color=RED)
text("Narancs - 55 napos", 485, 1349, size=17, weight="bold", color="#f07d1e")
text("Kék - 20 napos", 653, 1349, size=17, weight="bold", color="#1c1cc9")
hline(14, 928, 1361, "#111111", 1.5)
text("8", 951, 1371, size=17, color="#222222", align="right")
text("Bank of", 382, 1372, size=10, color="#222222")
text("INTESA", 427, 1372, size=12, color="#222222", font=SERIF)
rect(475, 1366, 488, 1377, fill="white", stroke="#444444", sw=1)
text("SANPAOLO", 492, 1372, size=11, color="#222222", font=SERIF)

chart = alt.layer(*layers).resolve_scale(
    x="independent", y="independent", fill="independent", color="independent"
).properties(
    width=944, height=1371, padding=0, autosize=alt.AutoSizeParams(type="none"), background="white"
).configure_view(stroke=None)

chart.save("out.html", embed_options={"renderer": "svg", "actions": False})
